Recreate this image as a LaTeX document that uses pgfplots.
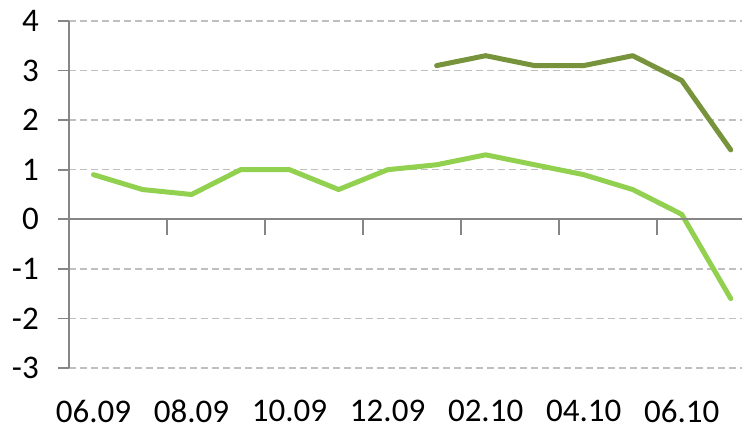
\documentclass[border=0pt]{standalone}
\usepackage{fontspec}
\setmainfont{Carlito}
\usepackage{pgfplots}
\pgfplotsset{compat=1.18}
\definecolor{lgreen}{RGB}{146,208,80}
\definecolor{dgreen}{RGB}{119,147,60}
\definecolor{axgray}{RGB}{134,134,134}
\definecolor{gridgray}{RGB}{191,191,191}
\begin{document}
\begin{tikzpicture}[x=1pt,y=1pt]
\useasboundingbox (0,0) rectangle (742,428);
\begin{axis}[
  at={(69pt,60pt)}, anchor=south west,
  scale only axis, width=673pt, height=347pt,
  xmin=-0.5, xmax=13.23, ymin=-3, ymax=4,
  axis x line*=bottom, axis y line*=left,
  x axis line style={draw=none},
  y axis line style={axgray, line width=1.8pt},
  xtick={0,2,4,6,8,10,12},
  xticklabels={06.09,08.09,10.09,12.09,02.10,04.10,06.10},
  xtick style={draw=none},
  xticklabel style={anchor=north, inner sep=0pt, text depth=0pt, yshift=-21pt},
  ytick={-3,-2,-1,0,1,2,3,4},
  ytick style={axgray, line width=1.8pt},
  tick align=outside, major tick length=11pt,
  yticklabel style={anchor=east, inner sep=0pt, xshift=-19pt},
  ymajorgrids,
  grid style={gridgray, line width=1.3pt, dash pattern=on 7pt off 4pt},
  tick label style={font=\fontsize{33}{38}\selectfont, text=black},
  /pgf/number format/assume math mode=true,
  clip=false,
]
\addplot[lgreen, line width=5pt, line join=round, line cap=round] coordinates {
(0,0.9) (1,0.6) (2,0.5) (3,1.0) (4,1.0) (5,0.6) (6,1.0)
(7,1.1) (8,1.3) (9,1.1) (10,0.9) (11,0.6) (12,0.1) (13,-1.6)};
\addplot[dgreen, line width=5pt, line join=round, line cap=round] coordinates {
(7,3.1) (8,3.3) (9,3.1) (10,3.1) (11,3.3) (12,2.8) (13,1.4)};
\end{axis}
\begin{axis}[
  at={(69pt,60pt)}, anchor=south west,
  scale only axis, width=673pt, height=347pt,
  xmin=-0.5, xmax=13.23, ymin=-3, ymax=4,
  axis x line*=middle, axis y line=none,
  x axis line style={axgray, line width=1.8pt, -},
  xtick={-0.5,1.5,3.5,5.5,7.5,9.5,11.5},
  xticklabels={},
  ytick=\empty,
  tick align=center, major tick length=16pt,
  xtick style={axgray, line width=1.8pt, yshift=-8pt},
]
\addplot[draw=none] coordinates {(0,0)};
\end{axis}
\end{tikzpicture}
\end{document}
